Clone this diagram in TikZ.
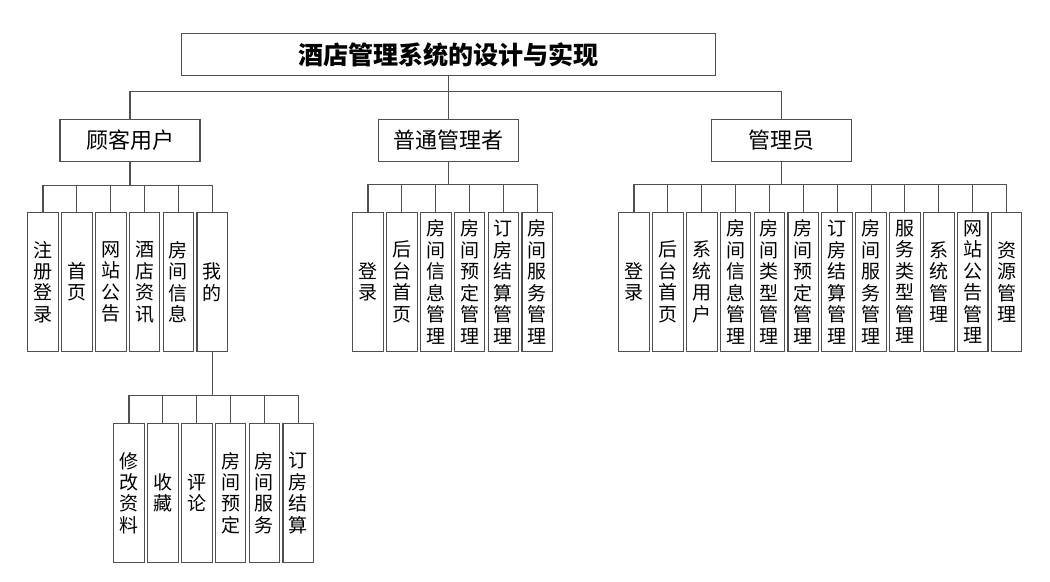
\documentclass[tikz,border=0pt]{standalone}
\usepackage{fontspec}
\setmainfont{Noto Sans CJK SC}
\usetikzlibrary{positioning, calc}
\definecolor{grisLinea}{HTML}{505050}
\colorlet{colLinea}{grisLinea}
\tikzset{
  cajaBase/.style={
    draw=colLinea, line width=0.8pt, inner sep=0pt,
    align=center, text=black, fill=white
  },
  cajaTitulo/.style={cajaBase, minimum width=400pt, minimum height=32pt,
    font=\fontsize{18.8pt}{22pt}\selectfont\bfseries},
  cajaRol/.style={cajaBase, minimum width=105pt, minimum height=32pt,
    font=\fontsize{16.5pt}{20pt}\selectfont},
  cajaHoja/.style={cajaBase, minimum width=23pt, minimum height=104pt,
    font=\fontsize{14.25pt}{16.1pt}\selectfont},
  linea/.style={draw=colLinea, line width=0.8pt},
}
\begin{document}
\begin{tikzpicture}[x=0.75pt, y=-0.75pt, node distance=1.6pt]
    \useasboundingbox (0,0) rectangle (1050,582);
    \node[cajaTitulo] (titulo) at (448.5,54.5) {酒店管理系统的设计与实现};
    \node[cajaRol] (cliente) at (130,140.5) {顾客用户};
    \node[cajaRol] (gestor) at (448.5,140.5) {普通管理者};
    \node[cajaRol] (admin) at (781.5,140.5) {管理员};

    % hojas del cliente
    \node[cajaHoja] (c1) at (43,282) {注\\册\\登\\录};
    \node[cajaHoja, right=of c1] (c2) {首\\页};
    \node[cajaHoja, right=of c2] (c3) {网\\站\\公\\告};
    \node[cajaHoja, right=of c3] (c4) {酒\\店\\资\\讯};
    \node[cajaHoja, right=of c4] (c5) {房\\间\\信\\息};
    \node[cajaHoja, right=of c5] (c6) {我\\的};

    % hojas de "mi"
    \node[cajaHoja] (m1) at (129,493) {修\\改\\资\\料};
    \node[cajaHoja, right=of m1] (m2) {收\\藏};
    \node[cajaHoja, right=of m2] (m3) {评\\论};
    \node[cajaHoja, right=of m3] (m4) {房\\间\\预\\定};
    \node[cajaHoja, right=of m4] (m5) {房\\间\\服\\务};
    \node[cajaHoja, right=of m5] (m6) {订\\房\\结\\算};

    % hojas del gestor
    \node[cajaHoja] (g1) at (368,282) {登\\录};
    \node[cajaHoja, right=of g1] (g2) {后\\台\\首\\页};
    \node[cajaHoja, right=of g2] (g3) {房\\间\\信\\息\\管\\理};
    \node[cajaHoja, right=of g3] (g4) {房\\间\\预\\定\\管\\理};
    \node[cajaHoja, right=of g4] (g5) {订\\房\\结\\算\\管\\理};
    \node[cajaHoja, right=of g5] (g6) {房\\间\\服\\务\\管\\理};

    % hojas del administrador
    \node[cajaHoja] (a1) at (634,282) {登\\录};
    \node[cajaHoja, right=of a1] (a2) {后\\台\\首\\页};
    \node[cajaHoja, right=of a2] (a3) {系\\统\\用\\户};
    \node[cajaHoja, right=of a3] (a4) {房\\间\\信\\息\\管\\理};
    \node[cajaHoja, right=of a4] (a5) {房\\间\\类\\型\\管\\理};
    \node[cajaHoja, right=of a5] (a6) {房\\间\\预\\定\\管\\理};
    \node[cajaHoja, right=of a6] (a7) {订\\房\\结\\算\\管\\理};
    \node[cajaHoja, right=of a7] (a8) {房\\间\\服\\务\\管\\理};
    \node[cajaHoja, right=of a8] (a9) {服\\务\\类\\型\\管\\理};
    \node[cajaHoja, right=of a9] (a10) {系\\统\\管\\理};
    \node[cajaHoja, right=of a10] (a11) {网\\站\\公\\告\\管\\理};
    \node[cajaHoja, right=of a11] (a12) {资\\源\\管\\理};

    % conexiones
    \coordinate (bus0) at ($(titulo.south)+(0,15)$);
    \coordinate (busC) at ($(cliente.south)+(0,23)$);
    \coordinate (busG) at ($(gestor.south)+(0,22)$);
    \coordinate (busA) at ($(admin.south)+(0,22)$);
    \coordinate (busM) at ($(c6.south)+(0,44)$);

    \draw[linea] (titulo.south) -- (gestor.north);
    \draw[linea] (bus0) -| (cliente.north) (bus0) -| (admin.north);
    \draw[linea] (cliente.south) -- (busC)
      (busC) -| (c1.north) (busC) -| (c2.north) (busC) -| (c3.north)
      (busC) -| (c4.north) (busC) -| (c5.north) (busC) -| (c6.north);
    \draw[linea] (c6.south) -- (busM)
      (busM) -| (m1.north) (busM) -| (m2.north) (busM) -| (m3.north)
      (busM) -| (m4.north) (busM) -| (m5.north) (busM) -| (m6.north);
    \draw[linea] (gestor.south) -- (busG)
      (busG) -| (g1.north) (busG) -| (g2.north) (busG) -| (g3.north)
      (busG) -| (g4.north) (busG) -| (g5.north) (busG) -| (g6.north);
    \draw[linea] (admin.south) -- (busA)
      (busA) -| (a1.north) (busA) -| (a2.north) (busA) -| (a3.north)
      (busA) -| (a4.north) (busA) -| (a5.north) (busA) -| (a6.north)
      (busA) -| (a7.north) (busA) -| (a8.north) (busA) -| (a9.north)
      (busA) -| (a10.north) (busA) -| (a11.north) (busA) -| (a12.north);
\end{tikzpicture}
\end{document}
